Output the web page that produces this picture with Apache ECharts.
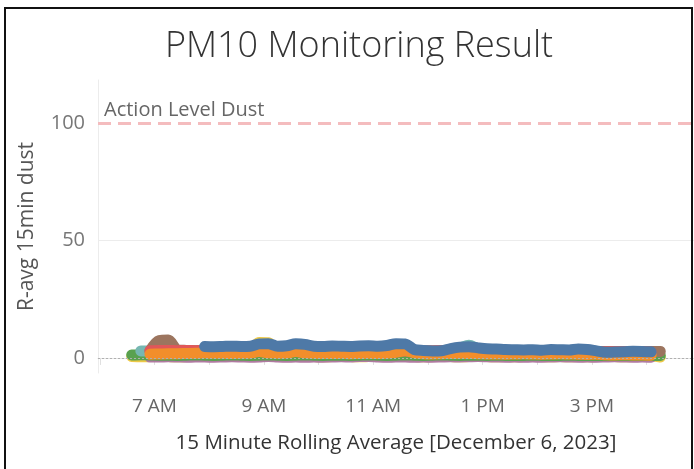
<!DOCTYPE html>
<html>
<head>
<meta charset="utf-8">
<script src="https://cdn.jsdelivr.net/npm/echarts@6/dist/echarts.min.js"></script>
<style>
html,body{margin:0;padding:0;background:#fff;}
#chart{width:694px;height:469px;}
</style>
</head>
<body>
<div id="chart"></div>
<script>
// ---- data ----
const chartTitle = 'PM10 Monitoring Result';
const xAxisTitle = '15 Minute Rolling Average [December 6, 2023]';
const yAxisTitle = 'R-avg 15min dust';
const actionLabel = 'Action Level Dust';
const actionLevel = 100;
const yTickValues = [0, 50, 100];
const xTickHours = ['06:00','07:00','08:00','09:00','10:00','11:00','12:00','13:00','14:00','15:00','16:00'];
const xLabelHours = ['07:00','09:00','11:00','13:00','15:00'];
const xLabels = ['7 AM','9 AM','11 AM','1 PM','3 PM'];
const xRange = ['05:58','16:52'];
const yRange = [-6.4, 118.3];

const times = ['06:35','06:45','06:55','07:05','07:15','07:25','07:35','07:45','07:55','08:05',
  '08:15','08:25','08:35','08:45','08:55','09:05','09:15','09:25','09:35','09:45',
  '09:55','10:05','10:15','10:25','10:35','10:45','10:55','11:05','11:15','11:25',
  '11:35','11:45','11:55','12:05','12:15','12:25','12:35','12:45','12:55','13:05',
  '13:15','13:25','13:35','13:45','13:55','14:05','14:15','14:25','14:35','14:45',
  '14:55','15:05','15:15','15:25','15:35','15:45','15:55','16:05','16:15'];

const yellow = [0.6,0.5,0.6,0.7,0.6,0.5,0.6,0.7,0.8,0.7,0.6,0.7,0.8,1.5,6.6,6.5,1.2,
  0.7,0.6,0.7,0.6,0.5,0.6,0.7,0.6,0.5,0.6,0.7,0.6,0.8,0.7,0.6,0.5,0.6,0.7,0.6,0.5,
  0.6,0.7,0.6,0.5,0.6,0.5,0.6,0.7,0.6,0.5,0.6,0.5,0.6,0.5,0.6,0.7,0.6,0.5,0.6,0.7,0.8,0.4];
const purple = [null,null,0.4,0.4,0.5,0.4,0.3,0.4,0.4,0.3,0.4,0.5,0.4,0.3,0.4,0.6,0.4,0.3,
  0.4,0.3,0.4,0.3,0.4,0.5,0.4,0.6,0.6,0.4,0.3,0.4,0.4,0.3,0.4,0.3,0.4,0.5,0.4,0.5,0.6,0.5,
  0.4,0.3,0.4,0.3,0.4,0.3,0.4,0.5,0.4,0.3,0.4,0.3,0.4,0.5,0.4,0.3,0.4,0.3,null];
const green = [1.3,1.4,1.3,1.2,1.2,1.1,1.2,1.3,1.2,1.1,1.2,1.3,1.2,1.1,1.2,1.3,1.2,1.1,
  1.2,1.3,1.2,1.1,1.2,1.2,1.1,1.2,1.3,1.2,1.1,1.2,1.3,1.2,1.1,1.2,1.3,1.2,1.1,1.2,1.2,1.1,
  1.2,1.1,1.0,1.1,1.2,1.1,1.0,1.1,1.2,1.1,1.0,1.1,1.0,1.1,1.0,1.1,1.0,1.1,1.1];
const teal = [null,3.0,3.0,3.1,3.0,3.0,3.1,3.0,3.0,3.1,3.0,3.0,3.1,3.2,3.3,3.2,3.0,3.1,
  3.2,3.1,3.0,3.0,3.1,3.0,3.0,3.1,3.2,3.1,3.0,3.2,3.1,3.0,3.0,3.0,3.1,3.4,4.2,5.4,4.0,3.2,
  3.0,3.0,2.9,3.0,2.9,2.8,2.9,3.0,2.9,2.8,2.9,2.8,2.6,2.6,2.7,2.7,2.6,2.5,null];
const brown = [null,null,3.0,7.4,7.6,3.5,3.2,3.1,3.2,3.1,3.0,3.1,3.2,3.1,3.2,3.3,3.1,3.0,
  3.2,3.1,3.0,3.0,3.1,3.0,3.0,3.1,3.1,3.1,3.0,3.1,3.0,3.0,2.9,3.0,3.0,3.1,3.0,3.1,3.0,3.0,
  2.9,3.0,2.9,3.0,2.9,2.8,2.9,3.0,2.9,2.8,2.9,2.8,2.7,2.7,2.8,2.7,2.7,2.7,2.8];
const red = [null,null,3.1,3.2,3.2,3.1,3.2,3.1,3.2,3.1,3.1,3.0,3.1,3.1,3.2,3.1,3.0,3.1,
  3.1,3.0,3.1,3.0,3.1,3.0,3.1,3.1,3.0,3.1,3.1,3.0,3.1,3.0,3.0,3.0,3.1,3.0,3.0,3.1,3.0,3.0,
  2.9,3.0,2.9,3.0,2.9,2.8,2.9,2.9,2.8,2.8,2.8,2.7,2.6,2.6,2.6,2.6,2.6,2.5,null];
const orange = [null,null,1.6,1.7,1.8,1.8,1.9,2.0,2.1,2.0,2.0,1.9,2.0,2.1,2.7,2.2,2.0,2.1,
  2.7,2.2,2.0,1.9,1.9,2.0,1.8,1.9,2.0,1.9,2.0,2.4,3.1,2.2,
  1.8,1.7,1.8,1.9,2.0,1.9,1.8,1.7,1.7,1.6,1.7,1.8,1.7,1.6,1.7,1.8,1.7,1.6,1.5,1.6,
  1.4,1.3,1.4,1.3,1.3,1.2,null];
const blue = [null,null,null,null,null,null,null,null,
  4.9,4.8,4.9,5.0,4.9,5.0,6.0,6.1,5.0,5.2,6.0,5.8,5.0,4.9,5.1,5.0,4.9,5.1,5.2,5.0,
  5.3,6.1,6.0,3.6,3.2,3.0,3.1,4.0,4.6,4.8,4.3,3.9,3.8,3.6,3.5,3.4,3.5,3.3,3.6,3.5,3.4,3.8,
  3.6,3.0,2.4,2.5,2.6,2.9,2.8,2.6,null];

const seriesDefs = [
  ['Yellow', yellow, '#edc948'],
  ['Purple', purple, '#b07aa1'],
  ['Green', green, '#59a14f'],
  ['Teal', teal, '#76b7b2'],
  ['Brown', brown, '#9c755f'],
  ['Red', red, '#e15759'],
  ['Orange', orange, '#f28e2b'],
  ['Blue', blue, '#4e79a7']
];

// ---- chart ----
// x axis expressed in hours of the day
const hrs = hm => { const [h, m] = hm.split(':').map(Number); return h + m / 60; };
const font = 'Open Sans';
const labelHrs = xLabelHours.map(hrs);

const series = seriesDefs.map(([name, vals, color]) => ({
  name, type: 'line', showSymbol: false, smooth: 0.3, silent: true,
  lineStyle: { color, width: 11, cap: 'round', join: 'round' },
  itemStyle: { color },
  data: times.map((t, i) => [hrs(t), vals[i]]),
  z: 3
}));

series.unshift({
  name: 'refs', type: 'line', data: [], silent: true, z: 2,
  markLine: {
    silent: true, symbol: 'none',
    data: [
      { yAxis: 50, lineStyle: { color: '#ececec', width: 1, type: 'solid' }, label: { show: false } },
      { yAxis: 0, lineStyle: { color: '#b0b0b0', width: 1, type: [2, 2] }, label: { show: false } },
      { yAxis: actionLevel, lineStyle: { color: '#f4bcbe', width: 3, type: [13, 7] },
        label: { show: true, formatter: actionLabel, position: 'insideStartTop', distance: [6, 3],
          color: '#666', fontSize: 20, fontFamily: font } }
    ]
  }
});

const chart = echarts.init(document.getElementById('chart'), null, { renderer: 'canvas' });
chart.setOption({
  animation: false,
  backgroundColor: '#fff',
  title: {
    text: chartTitle, left: 354, top: 24, textAlign: 'center',
    textStyle: { fontFamily: font, fontSize: 36, fontWeight: 300, color: '#333' }
  },
  grid: { left: 98, right: 0, top: 80, bottom: 96, containLabel: false },
  xAxis: {
    type: 'value', min: hrs(xRange[0]), max: hrs(xRange[1]),
    name: xAxisTitle, nameLocation: 'middle', nameGap: 60,
    nameTextStyle: { fontFamily: font, fontSize: 20.5, color: '#333' },
    axisLine: { show: true, lineStyle: { color: '#e4e4e4' } },
    axisTick: { show: true, length: 7, lineStyle: { color: '#e0e0e0' }, customValues: xTickHours.map(hrs) },
    axisLabel: {
      customValues: labelHrs, margin: 24,
      fontFamily: font, fontSize: 19, color: '#666',
      formatter: v => { const k = labelHrs.findIndex(h => Math.abs(h - v) < 1e-6); return k >= 0 ? xLabels[k] : ''; }
    },
    splitLine: { show: false }
  },
  yAxis: {
    type: 'value', min: yRange[0], max: yRange[1],
    name: yAxisTitle, nameLocation: 'middle', nameGap: 60,
    nameTextStyle: { fontFamily: font, fontSize: 21, color: '#555' },
    axisLine: { show: true, lineStyle: { color: '#ececec' } },
    axisTick: { show: false },
    axisLabel: { customValues: yTickValues, margin: 13, fontFamily: font, fontSize: 20, color: '#777' },
    splitLine: { show: false }
  },
  graphic: [{
    type: 'rect', z: 100, silent: true,
    shape: { x: 5, y: 8, width: 687, height: 480 },
    style: { fill: 'none', stroke: '#111', lineWidth: 2 }
  }],
  series
});
</script>
</body>
</html>
